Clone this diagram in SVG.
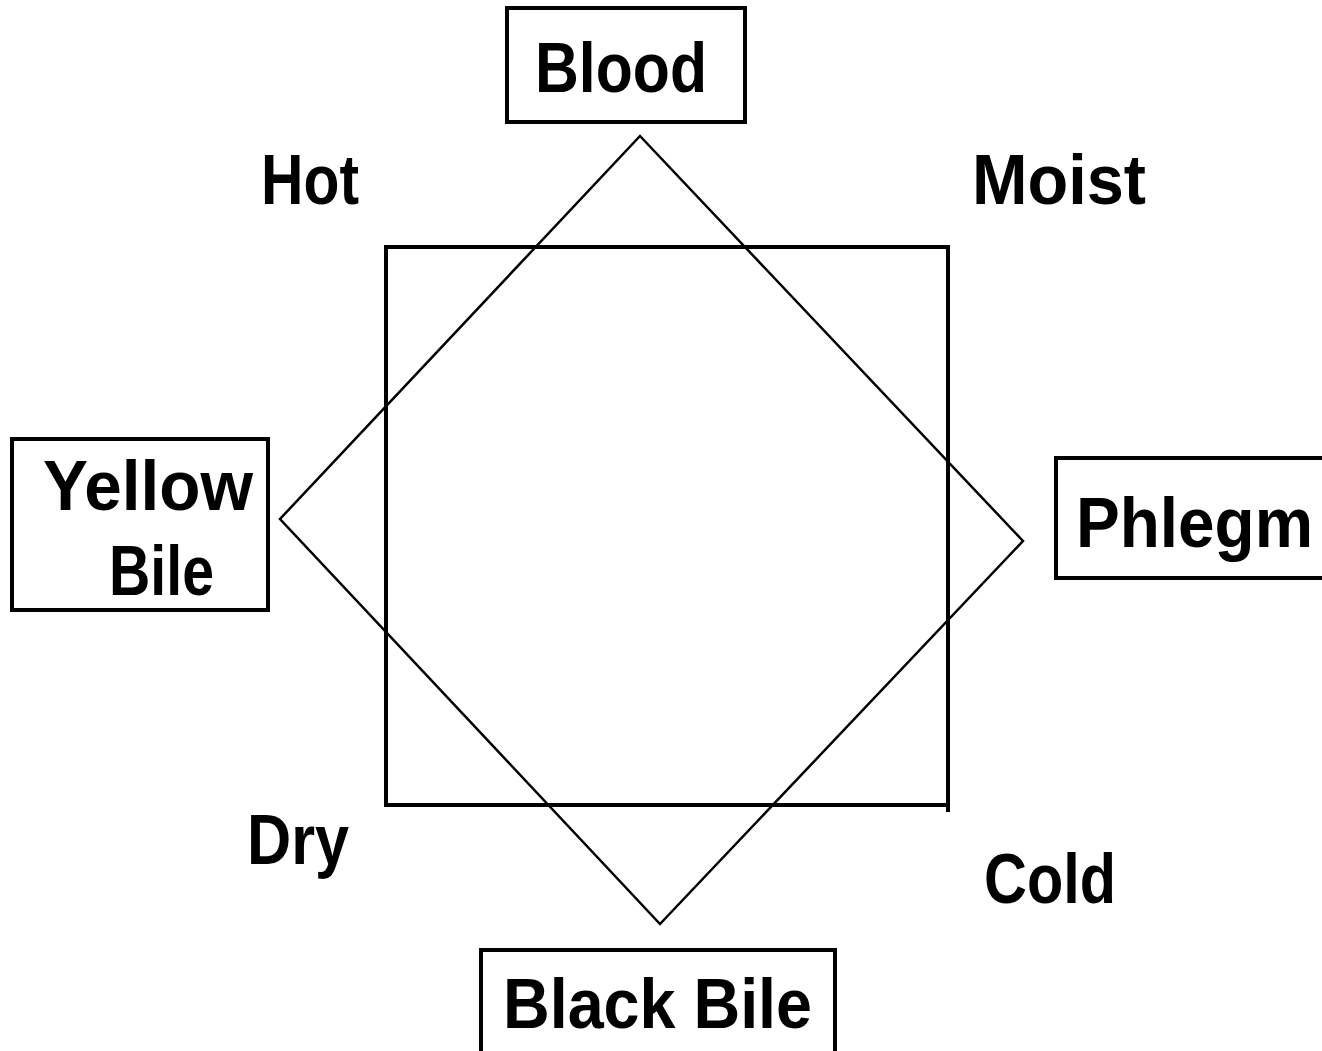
<svg xmlns="http://www.w3.org/2000/svg" width="1322" height="1051" viewBox="0 0 1322 1051">
<style>
.box{fill:#fff;stroke:#000;stroke-width:4}
.t{font-family:"Liberation Sans",Arial,sans-serif;font-weight:bold;font-size:70px;fill:#000}
.conn{fill:none;stroke:#000}
</style>
<rect x="0" y="0" width="1322" height="1051" fill="#fff"/>
<g id="connectors">
<rect class="conn" x="386" y="247" width="562" height="558" stroke-width="4"/>
<line class="conn" x1="948" y1="805" x2="948" y2="812" stroke-width="4"/>
<polygon class="conn" points="640,136 1023,541 660,924 280,519" stroke-width="2.5"/>
</g>
<g id="blood"><rect class="box" x="507" y="8" width="238" height="114"/><text class="t" x="535" y="92" textLength="172" lengthAdjust="spacingAndGlyphs">Blood</text></g>
<g id="yellow-bile"><rect class="box" x="12" y="439" width="256" height="171"/><text class="t" x="43" y="510" textLength="210" lengthAdjust="spacingAndGlyphs">Yellow</text><text class="t" x="109" y="595" textLength="105" lengthAdjust="spacingAndGlyphs">Bile</text></g>
<g id="phlegm"><rect class="box" x="1056" y="458" width="290" height="120"/><text class="t" x="1076" y="547" textLength="237" lengthAdjust="spacingAndGlyphs">Phlegm</text></g>
<g id="black-bile"><rect class="box" x="481" y="950" width="354" height="130"/><text class="t" x="503" y="1028" textLength="309" lengthAdjust="spacingAndGlyphs">Black Bile</text></g>
<g id="hot"><text class="t" x="261" y="204" textLength="98" lengthAdjust="spacingAndGlyphs">Hot</text></g>
<g id="moist"><text class="t" x="972" y="204" textLength="174" lengthAdjust="spacingAndGlyphs">Moist</text></g>
<g id="dry"><text class="t" x="247" y="864" textLength="102" lengthAdjust="spacingAndGlyphs">Dry</text></g>
<g id="cold"><text class="t" x="984" y="903" textLength="132" lengthAdjust="spacingAndGlyphs">Cold</text></g>
</svg>
